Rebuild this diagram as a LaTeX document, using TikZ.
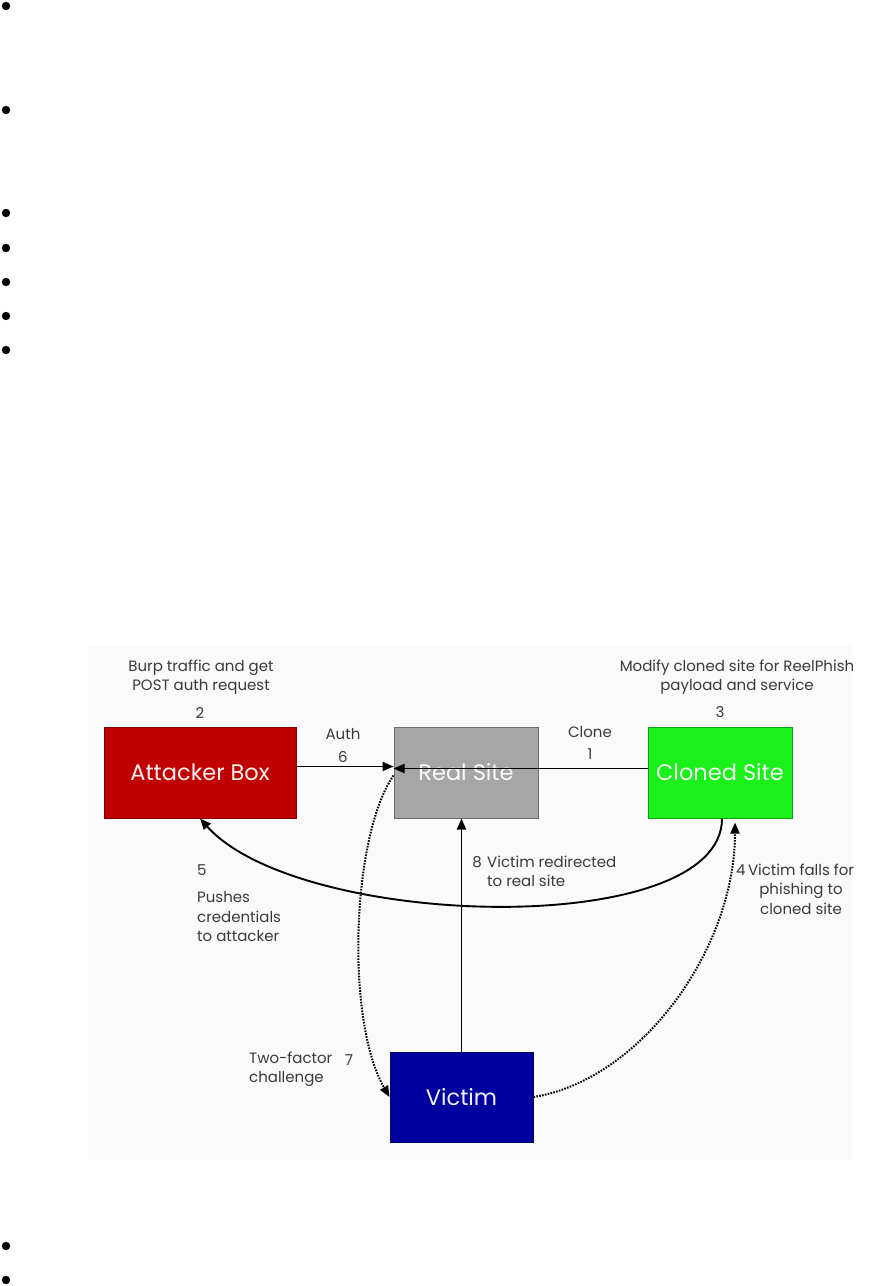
\documentclass[tikz,border=0pt]{standalone}
\usepackage{fontspec}
\setmainfont{Poppins}
\usetikzlibrary{arrows.meta}
\definecolor{attackred}{HTML}{C00000}
\definecolor{realgray}{HTML}{A6A6A6}
\definecolor{clonegreen}{HTML}{1AF01A}
\definecolor{victimblue}{HTML}{00009E}
\definecolor{labelgray}{HTML}{3A3A3A}

\begin{document}
\begin{tikzpicture}[x=1pt, y=-1pt,
  box/.style={fill=#1, draw=#1!65!black, line width=1pt, minimum height=91pt,
    font=\fontsize{22.5}{26}\selectfont, text=white!94!#1},
  lbl/.style={font=\fontsize{15}{19.5}\selectfont, text=labelgray, inner sep=0pt},
  arr/.style={line width=1.9pt, -{Triangle[length=11pt,width=9pt]}},
  dots/.style={line width=2pt, dash pattern=on 1.6pt off 1.3pt, -{Triangle[length=11pt,width=9pt]}}]
  \useasboundingbox (0,0) rectangle (878,1286);

  % --- bullets ---
  \foreach \by in {6,110,213,248,282,316,350,1246,1280}
    \fill (6,\by) circle (4.2pt);

  % --- diagram background ---
  \fill[black!2] (88,645) rectangle (852,1160);

  % --- boxes ---
  \node[box=attackred, minimum width=192pt] (attacker) at (200,772.5) {Attacker Box};
  \node[box=realgray, minimum width=144pt] (real) at (466,772.5) {Real Site};
  \node[box=clonegreen, minimum width=144pt] (cloned) at (720,772.5) {Cloned Site};
  \node[box=victimblue, minimum width=143pt, minimum height=90pt] (victim) at (461.5,1097) {Victim};

  % --- labels ---
  \node[lbl, align=center] (burp) at (201,677) {Burp traffic and get\\POST auth request};
  \node[lbl] (n2) at (200,713) {2};
  \node[lbl] (auth) at (343,734) {Auth};
  \node[lbl] (n6) at (343,757) {6};
  \node[lbl] (clone) at (590,732) {Clone};
  \node[lbl] (n1) at (590,754) {1};
  \node[lbl, align=center] (modify) at (737,677) {Modify cloned site for ReelPhish\\payload and service};
  \node[lbl] (n3) at (720,712) {3};
  \node[lbl, anchor=west] (n5) at (197,870) {5};
  \node[lbl, align=left, anchor=west] (pushes) at (197,917) {Pushes\\credentials\\to attacker};
  \node[lbl] (n8) at (477,862) {8};
  \node[lbl, align=left, anchor=west] (redirect) at (487,871.5) {Victim redirected\\to real site};
  \node[lbl, anchor=west] (n4) at (736,870) {4};
  \node[lbl, align=center] (falls) at (801,889) {Victim falls for\\phishing to\\cloned site};
  \node[lbl, align=left, anchor=west] (twofactor) at (249,1069.5) {Two-factor\\challenge};
  \node[lbl] (n7) at (349,1060) {7};

  % --- connectors ---
  \draw[arr] ([yshift=6pt]attacker.east) -- ([yshift=6pt]real.west);
  \draw[arr] ([yshift=4pt]cloned.west) -- ([yshift=4pt]real.west);
  \draw[arr] ([xshift=2pt]cloned.south) .. controls (722,940) and (300,930) .. (attacker.south);
  \draw[arr] (victim.north) -- (victim.north |- real.south);
  % dotted paths
  \draw[dots] (victim.east) .. controls (640,1080) and (735,950) .. ([xshift=15pt,yshift=-4pt]cloned.south);
  \draw[dots] ([yshift=-3pt]real.west) .. controls (352,835) and (345,1020) .. (victim.west);
\end{tikzpicture}
\end{document}
